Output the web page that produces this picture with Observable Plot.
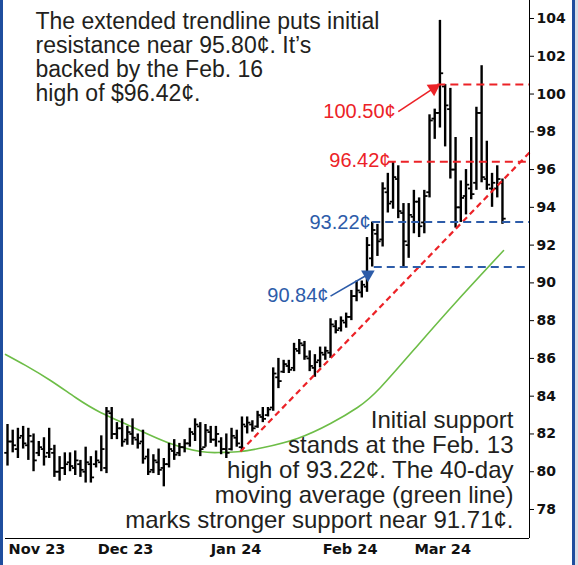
<!DOCTYPE html>
<html><head><meta charset="utf-8">
<script src="https://cdn.jsdelivr.net/npm/d3@7"></script>
<script src="https://cdn.jsdelivr.net/npm/@observablehq/plot@0.6"></script>
<style>
body{margin:0;background:#fff;}
#wrap{position:relative;width:578px;height:565px;overflow:hidden;background:#fff;}
#wrap .bl{position:absolute;left:0;top:0;width:3px;height:565px;background:#1f4e9e;}
#wrap .br{position:absolute;left:572px;top:0;width:3px;height:565px;background:#1f4e9e;}
#wrap .br2{position:absolute;left:575px;top:0;width:3px;height:565px;background:#d8dde6;}
svg{display:block}
</style></head><body>
<div id="wrap"><div id="chart"></div><div class="bl"></div><div class="br"></div><div class="br2"></div></div>
<script>
// ---- daily OHLC bars (bar index 0 = Nov 1, 2023) ----
const highs = [82.5,82.2,82.3,82.4,82.3,82.0,81.6,81.8,82.3,81.4, 80.8,81.0,81.0,81.1,80.6,81.3,80.8,81.1,81.9,83.4,
  83.4,82.6,82.8,82.4,82.8,82.0,82.2,81.2,80.9,81.2, 80.7,81.5,81.7,81.5,81.7,82.3,82.8,82.6,82.5,82.4,
  82.4,81.8,82.0,82.3,82.2,82.9,82.9,82.7,83.2,83.4, 83.4,85.5,86.0,85.9,85.9,86.8,87.0,86.9,86.4,86.2,
  86.6,86.6,88.1,88.0,88.2,88.4,89.6,90.1,90.1,92.4, 93.22,93.1,95.3,95.8,96.42,96.2,94.2,94.2,94.9,94.5,
  94.9,98.9,99.2,103.9,100.5,100.3,97.7,95.4,96.0,97.7, 99.3,101.5,97.5,95.8,96.2,95.5];
const lows = [80.3,81.0,80.7,81.2,80.6,80.0,80.8,80.3,80.7,79.7, 79.5,79.8,80.0,79.8,79.7,79.4,79.4,80.2,80.0,79.9,
  81.7,81.7,81.3,81.4,81.4,81.2,80.4,79.8,79.9,79.8, 79.2,80.2,80.6,80.8,81.0,81.3,81.6,80.8,81.3,81.5,
  81.3,80.9,80.7,81.1,81.3,81.1,82.0,82.1,82.3,82.6, 82.9,83.2,84.4,85.2,85.2,85.3,86.2,85.9,85.3,85.0,
  85.5,85.9,86.0,87.3,87.4,87.6,88.0,89.0,89.2,89.5, 90.84,91.4,91.9,93.7,93.9,93.4,90.84,91.3,92.6,92.4,
  92.6,94.5,97.6,98.2,97.2,95.5,92.9,93.2,93.6,94.4, 94.9,95.3,94.9,94.0,94.5,93.1];
const opens = [81.0,81.6,81.2,81.9,81.4,81.6,81.0,81.2,81.0,81.0, 80.0,80.2,80.5,80.2,80.4,80.0,80.4,80.4,80.5,80.2,
  83.1,82.0,82.3,81.7,82.0,81.7,81.6,80.8,80.1,80.5, 80.2,80.4,81.1,81.0,81.3,81.5,82.0,82.4,81.3,82.1,
  81.7,81.6,81.2,81.2,81.8,81.3,82.4,82.5,82.4,82.9, 83.0,83.4,85.0,85.3,85.6,85.5,86.4,86.7,86.0,85.5,
  85.9,86.2,86.3,87.7,87.6,87.9,88.2,89.3,89.5,89.8, 91.3,92.6,92.3,94.8,94.3,95.5,93.7,92.0,93.5,94.3,
  93.2,94.8,98.7,99.0,100.4,99.2,96.0,94.0,94.6,95.0, 95.3,99.0,95.5,95.0,95.0,95.3];
const closes = [81.6,81.4,81.8,81.5,81.9,80.6,81.3,80.8,81.2,80.0, 80.2,80.4,80.3,80.6,80.1,80.5,79.7,80.6,81.2,83.2,
  82.0,82.3,81.6,82.1,81.8,81.5,80.7,80.0,80.6,80.1, 80.4,81.2,80.9,81.3,81.5,82.1,82.5,81.2,82.2,81.7,
  82.0,81.2,81.0,81.9,81.5,82.5,82.6,82.3,83.0,82.8, 83.3,85.2,84.8,85.7,85.4,86.5,86.8,86.1,85.6,85.8,
  86.3,86.4,87.8,87.5,88.0,88.2,89.3,89.6,89.9,92.0, 92.8,92.2,95.0,94.2,95.6,93.8,92.2,93.6,94.3,93.0,
  94.6,98.6,99.0,101.1,99.4,96.0,94.0,94.5,95.2,94.7, 99.0,95.6,95.2,95.3,95.5,93.4];

// ---- 40-day moving average ----
const maIdx = [-0.38,3.45,8.25,13.05,17.85,24.18,30.71,37.04,40.88,44.72,49.14,55.66,62.0,67.18,71.59,78.89,86.37,95.2];
const maVal = [86.21,85.63,84.83,83.93,83.14,82.34,81.55,81.07,81.02,81.07,81.28,81.76,82.55,83.40,84.46,86.74,89.07,91.71];

// ---- trendline (start/end) ----
const trendIdx = [44.7, 100.19];
const trendVal = [81.07, 96.90];

// ---- support / resistance levels ----
const levelVals = [100.50, 96.42, 93.22, 90.84];
const levelFrom = [82.5, 73.0, 70.0, 70.3];
const levelKind = ["res", "res", "sup", "sup"];
const labelText = ["100.50¢", "96.42¢", "93.22¢", "90.84¢"];
const labelIdx = [74.5, 73.5, 69.7, 61.6];
const labelVal = [99.05, 96.48, 93.20, 89.33];
const arrowFrom = [[75.0, 99.07], [62.0, 89.30]];
const arrowTo = [[82.6, 100.45], [70.0, 90.58]];
const arrowKind = ["res", "sup"];

// ---- axes ----
const monthLabels = ["Nov 23", "Dec 23", "Jan 24", "Feb 24", "Mar 24"];
const monthIdx = [0.2, 17.3, 39.0, 60.5, 78.1];
const yTicks = [78,80,82,84,86,88,90,92,94,96,98,100,102,104];

const topNote = "The extended trendline puts initial\nresistance near 95.80¢. It’s\nbacked by the Feb. 16\nhigh of $96.42¢.";
const bottomNote = "Initial support\nstands at the Feb. 13\nhigh of 93.22¢. The 40-day\nmoving average (green line)\nmarks stronger support near 91.71¢.";

const RED = "#ec2227", BLUE = "#2d5ca9", GREEN = "#6dbd47", INK = "#231f20";
const col = k => k === "res" ? RED : BLUE;

const X0 = -0.384, X1 = 100.19, Y0 = 76.464, Y1 = 104.953;
const PXX = 524 / (X1 - X0), PXY = 538 / (Y1 - Y0); // pixels per unit, for arrowhead orientation only

const bars = highs.map((h, i) => ({i, high: h, low: lows[i], open: opens[i], close: closes[i]}));
const ma = maIdx.map((x, k) => ({x, y: maVal[k]}));
const levels = levelVals.map((v, k) => ({v, from: levelFrom[k], c: col(levelKind[k])}));
const labels = labelText.map((t, k) => ({t, x: labelIdx[k], y: labelVal[k], c: col(levelKind[k])}));
const arrows = arrowFrom.map((f, k) => {
  const x2 = arrowTo[k][0], y2 = arrowTo[k][1];
  const dxp = (x2 - f[0]) * PXX, dyp = -(y2 - f[1]) * PXY, len = Math.hypot(dxp, dyp);
  const ux = dxp / len, uy = dyp / len, back = 5;
  return {x1: f[0], y1: f[1], x2, y2,
    hx: x2 - back * ux / PXX, hy: y2 + back * uy / PXY,
    sx: x2 - 8 * ux / PXX, sy: y2 + 8 * uy / PXY,
    rot: Math.atan2(dyp, dxp) * 180 / Math.PI + 90, c: col(arrowKind[k])};
});

const chart = Plot.plot({
  width: 578, height: 565,
  marginTop: 0, marginBottom: 27, marginLeft: 5, marginRight: 49,
  x: {domain: [X0, X1], axis: null},
  y: {domain: [Y0, Y1], axis: null},
  style: {fontFamily: "'Liberation Sans', Arial, Helvetica, sans-serif", background: "#fff", overflow: "visible"},
  marks: [
    Plot.line(ma, {x: "x", y: "y", stroke: GREEN, strokeWidth: 1.6, curve: "natural"}),
    Plot.ruleX(bars, {x: "i", y1: "low", y2: "high", stroke: "#000", strokeWidth: 2.4}),
    Plot.link(bars, {x1: d => d.i - 0.62, x2: "i", y1: "open", y2: "open", stroke: "#000", strokeWidth: 1.8}),
    Plot.link(bars, {x1: "i", x2: d => d.i + 0.62, y1: "close", y2: "close", stroke: "#000", strokeWidth: 1.8}),
    Plot.link([0], {x1: () => trendIdx[0], x2: () => trendIdx[1], y1: () => trendVal[0], y2: () => trendVal[1], stroke: RED, strokeWidth: 2.2, strokeDasharray: "6,4"}),
    Plot.link(levels, {x1: "from", x2: () => X1, y1: "v", y2: "v", stroke: "c", strokeWidth: 2, strokeDasharray: "8,5"}),
    Plot.link(arrows, {x1: "x1", y1: "y1", x2: "sx", y2: "sy", stroke: "c", strokeWidth: 1.6}),
    Plot.dot(arrows, {x: "hx", y: "hy", symbol: "triangle2", r: 6.5, rotate: "rot", fill: "c", stroke: "none"}),
    Plot.text(labels, {x: "x", y: "y", text: "t", fill: "c", textAnchor: "end", fontSize: 20, fontFamily: "'Liberation Sans', Arial, sans-serif"}),
    Plot.ruleX([X1], {stroke: "#000", strokeWidth: 1}),
    Plot.ruleY([Y0], {stroke: "#000", strokeWidth: 1}),
    Plot.axisY(yTicks, {anchor: "right", tickSize: 4, tickPadding: 3, fontWeight: "bold", fontSize: 14, fontFamily: "'DejaVu Sans', sans-serif", fill: "#111", label: null}),
    Plot.text(monthLabels, {x: (d, k) => monthIdx[k], text: d => d, frameAnchor: "bottom", textAnchor: "start", dy: 15, fontWeight: "bold", fontSize: 14.5, fontFamily: "'DejaVu Sans', sans-serif", fill: "#111"}),
    Plot.text([topNote], {text: d => d, frameAnchor: "top-left", dx: 30, dy: 12, lineAnchor: "top", textAnchor: "start", fontSize: 23, lineHeight: 1.04, fill: INK}),
    Plot.text([bottomNote], {text: d => d, frameAnchor: "bottom-right", dx: -16, dy: -11, lineAnchor: "bottom", textAnchor: "end", fontSize: 24, lineHeight: 1.04, fill: INK})
  ]
});
document.getElementById("chart").appendChild(chart);
</script>
</body></html>
